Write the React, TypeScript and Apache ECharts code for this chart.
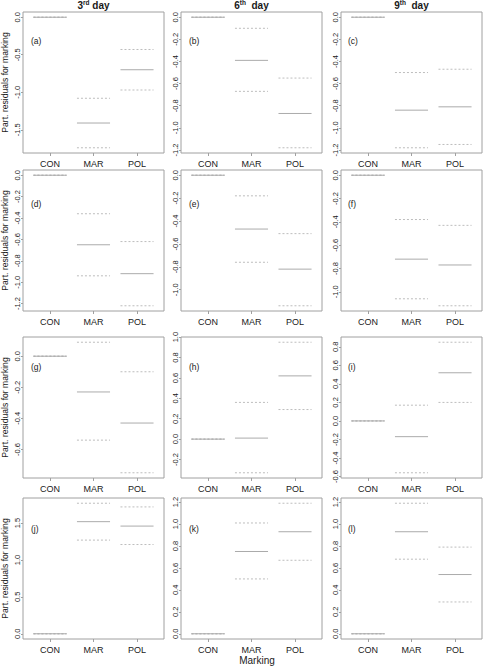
import React, { useEffect, useRef } from "react";
import * as echarts from "echarts";

const categories = ["CON", "MAR", "POL"];
const dayNumbers = ["3", "6", "9"];
const daySuffixes = ["rd", "th", "th"];
const daySpacing = [" day", "  day", "  day"];
const panelLetters = ["(a)", "(b)", "(c)", "(d)", "(e)", "(f)", "(g)", "(h)", "(i)", "(j)", "(k)", "(l)"];
const xAxisTitle = "Marking";
const yAxisTitle = "Part. residuals for marking";

// values per category [CON, MAR, POL]
const fitA = [0, -1.41, -0.7];
const lowA = [0, -1.74, -0.97];
const highA = [0, -1.08, -0.43];
const ticksA = [0, -0.5, -1.0, -1.5];

const fitB = [0, -0.39, -0.87];
const lowB = [0, -0.67, -1.18];
const highB = [0, -0.1, -0.55];
const ticksB = [0, -0.2, -0.4, -0.6, -0.8, -1.0, -1.2];

const fitC = [0, -0.84, -0.81];
const lowC = [0, -1.18, -1.15];
const highC = [0, -0.5, -0.47];
const ticksC = [0, -0.2, -0.4, -0.6, -0.8, -1.0, -1.2];

const fitD = [0, -0.65, -0.92];
const lowD = [0, -0.94, -1.22];
const highD = [0, -0.36, -0.62];
const ticksD = [0, -0.2, -0.4, -0.6, -0.8, -1.0, -1.2];

const fitE = [0, -0.47, -0.82];
const lowE = [0, -0.76, -1.14];
const highE = [0, -0.18, -0.51];
const ticksE = [0, -0.2, -0.4, -0.6, -0.8, -1.0];

const fitF = [0, -0.72, -0.77];
const lowF = [0, -1.06, -1.12];
const highF = [0, -0.38, -0.43];
const ticksF = [0, -0.2, -0.4, -0.6, -0.8, -1.0];

const fitG = [0, -0.23, -0.43];
const lowG = [0, -0.54, -0.75];
const highG = [0, 0.09, -0.1];
const ticksG = [0, -0.2, -0.4, -0.6];

const fitH = [0, 0.01, 0.62];
const lowH = [0, -0.33, 0.29];
const highH = [0, 0.36, 0.95];
const ticksH = [-0.2, 0, 0.2, 0.4, 0.6, 0.8, 1.0];

const fitI = [0, -0.17, 0.52];
const lowI = [0, -0.56, 0.2];
const highI = [0, 0.17, 0.85];
const ticksI = [-0.6, -0.4, -0.2, 0, 0.2, 0.4, 0.6, 0.8];

const fitJ = [0, 1.52, 1.46];
const lowJ = [0, 1.27, 1.21];
const highJ = [0, 1.77, 1.72];
const ticksJ = [0, 0.5, 1.0, 1.5];

const fitK = [0, 0.75, 0.93];
const lowK = [0, 0.5, 0.67];
const highK = [0, 1.01, 1.19];
const ticksK = [0, 0.2, 0.4, 0.6, 0.8, 1.0, 1.2];

const fitL = [0, 0.93, 0.54];
const lowL = [0, 0.68, 0.29];
const highL = [0, 1.19, 0.79];
const ticksL = [0, 0.2, 0.4, 0.6, 0.8, 1.0, 1.2];

const panels = [
  { fit: fitA, low: lowA, high: highA, ticks: ticksA },
  { fit: fitB, low: lowB, high: highB, ticks: ticksB },
  { fit: fitC, low: lowC, high: highC, ticks: ticksC },
  { fit: fitD, low: lowD, high: highD, ticks: ticksD },
  { fit: fitE, low: lowE, high: highE, ticks: ticksE },
  { fit: fitF, low: lowF, high: highF, ticks: ticksF },
  { fit: fitG, low: lowG, high: highG, ticks: ticksG },
  { fit: fitH, low: lowH, high: highH, ticks: ticksH },
  { fit: fitI, low: lowI, high: highI, ticks: ticksI },
  { fit: fitJ, low: lowJ, high: highJ, ticks: ticksJ },
  { fit: fitK, low: lowK, high: highK, ticks: ticksK },
  { fit: fitL, low: lowL, high: highL, ticks: ticksL },
];

// layout
const COL_LEFT = [23, 181, 341];
const ROW_TOP = [12, 170, 337, 498];
const BOX_W = 141;
const BOX_H = 141;
const LETTER_X = [31, 189, 348];
const LETTER_Y = [41, 204, 367, 529];
const HALF = 0.38;
const FONT = "'Liberation Sans', Arial, Helvetica, sans-serif";
const BOX_COLOR = "#a0a0a0";
const FIT_COLOR = "#ababab";
const CI_COLOR = "#bdbdbd";
const TEXT_COLOR = "#1a1a1a";

function renderItem(params: any, api: any) {
  const x = api.value(0);
  const seg = (v: number, dashed: boolean) => {
    const p1 = api.coord([x - HALF, v]);
    const p2 = api.coord([x + HALF, v]);
    return {
      type: "line",
      shape: { x1: p1[0], y1: p1[1], x2: p2[0], y2: p2[1] },
      style: {
        stroke: dashed ? CI_COLOR : FIT_COLOR,
        lineWidth: 1,
        lineDash: dashed ? [2, 2] : null,
      },
    };
  };
  return {
    type: "group",
    children: [seg(api.value(2), true), seg(api.value(3), true), seg(api.value(1), false)],
  };
}

export default function App() {
  const ref = useRef<HTMLDivElement>(null);
  useEffect(() => {
    const chart = echarts.init(ref.current!, null, { renderer: "svg" });
    const grids: any[] = [];
    const xAxes: any[] = [];
    const yAxes: any[] = [];
    const series: any[] = [];
    const graphic: any[] = [];

    panels.forEach((p, k) => {
      const r = Math.floor(k / 3);
      const c = k % 3;
      const all = [...p.fit, ...p.low, ...p.high];
      const lo = Math.min(...all);
      const hi = Math.max(...all);
      const pad = 0.04 * (hi - lo);
      grids.push({
        left: COL_LEFT[c],
        top: ROW_TOP[r],
        width: BOX_W,
        height: BOX_H,
        show: true,
        borderColor: BOX_COLOR,
        borderWidth: 1,
        backgroundColor: "transparent",
      });
      xAxes.push({
        type: "value",
        gridIndex: k,
        position: "bottom",
        min: 0.38,
        max: 3.62,
        axisLine: { show: false, onZero: false },
        splitLine: { show: false },
        axisTick: { show: true, customValues: [1, 2, 3], length: 3, lineStyle: { color: BOX_COLOR } },
        axisLabel: {
          customValues: [1, 2, 3],
          formatter: (v: number) => categories[Math.round(v) - 1],
          fontSize: 9,
          fontFamily: FONT,
          color: TEXT_COLOR,
          margin: 6,
        },
      });
      yAxes.push({
        type: "value",
        gridIndex: k,
        position: "left",
        min: lo - pad,
        max: hi + pad,
        axisLine: { show: false, onZero: false },
        splitLine: { show: false },
        axisTick: { show: true, customValues: p.ticks, length: 2, lineStyle: { color: BOX_COLOR } },
        axisLabel: {
          customValues: p.ticks,
          formatter: (v: number) => v.toFixed(1),
          rotate: 90,
          fontSize: 7.5,
          fontFamily: FONT,
          color: TEXT_COLOR,
          margin: 2,
        },
      });
      series.push({
        type: "custom",
        xAxisIndex: k,
        yAxisIndex: k,
        silent: true,
        clip: false,
        renderItem,
        data: categories.map((_, i) => [i + 1, p.fit[i], p.low[i], p.high[i]]),
      });
      graphic.push({
        type: "text",
        x: LETTER_X[c],
        y: LETTER_Y[r],
        style: {
          text: panelLetters[k],
          fontSize: 8.5,
          fontFamily: FONT,
          fill: TEXT_COLOR,
          textAlign: "left",
          textVerticalAlign: "middle",
        },
      });
    });

    dayNumbers.forEach((d, c) => {
      graphic.push({
        type: "text",
        x: COL_LEFT[c] + BOX_W / 2,
        y: 5,
        style: {
          text: `{n|${d}}{s|${daySuffixes[c]}}{n|${daySpacing[c]}}`,
          textAlign: "center",
          textVerticalAlign: "middle",
          rich: {
            n: { fontSize: 10, fontWeight: "bold", fontFamily: FONT, fill: TEXT_COLOR, lineHeight: 12 },
            s: { fontSize: 6.5, fontWeight: "bold", fontFamily: FONT, fill: TEXT_COLOR, lineHeight: 7, verticalAlign: "top" },
          },
        },
      });
    });

    ROW_TOP.forEach((t) => {
      graphic.push({
        type: "text",
        x: 5,
        y: t + BOX_H / 2,
        rotation: Math.PI / 2,
        style: {
          text: yAxisTitle,
          fontSize: 8.6,
          fontFamily: FONT,
          fill: TEXT_COLOR,
          textAlign: "center",
          textVerticalAlign: "middle",
        },
      });
    });

    graphic.push({
      type: "text",
      x: 257,
      y: 660,
      style: {
        text: xAxisTitle,
        fontSize: 10,
        fontFamily: FONT,
        fill: TEXT_COLOR,
        textAlign: "center",
        textVerticalAlign: "middle",
      },
    });

    chart.setOption({
      animation: false,
      backgroundColor: "#ffffff",
      grid: grids,
      xAxis: xAxes,
      yAxis: yAxes,
      series,
      graphic,
    });
    return () => chart.dispose();
  }, []);
  return (
    <div
      ref={ref}
      style={{ position: "fixed", left: 0, top: 0, width: 484, height: 667 }}
    />
  );
}
